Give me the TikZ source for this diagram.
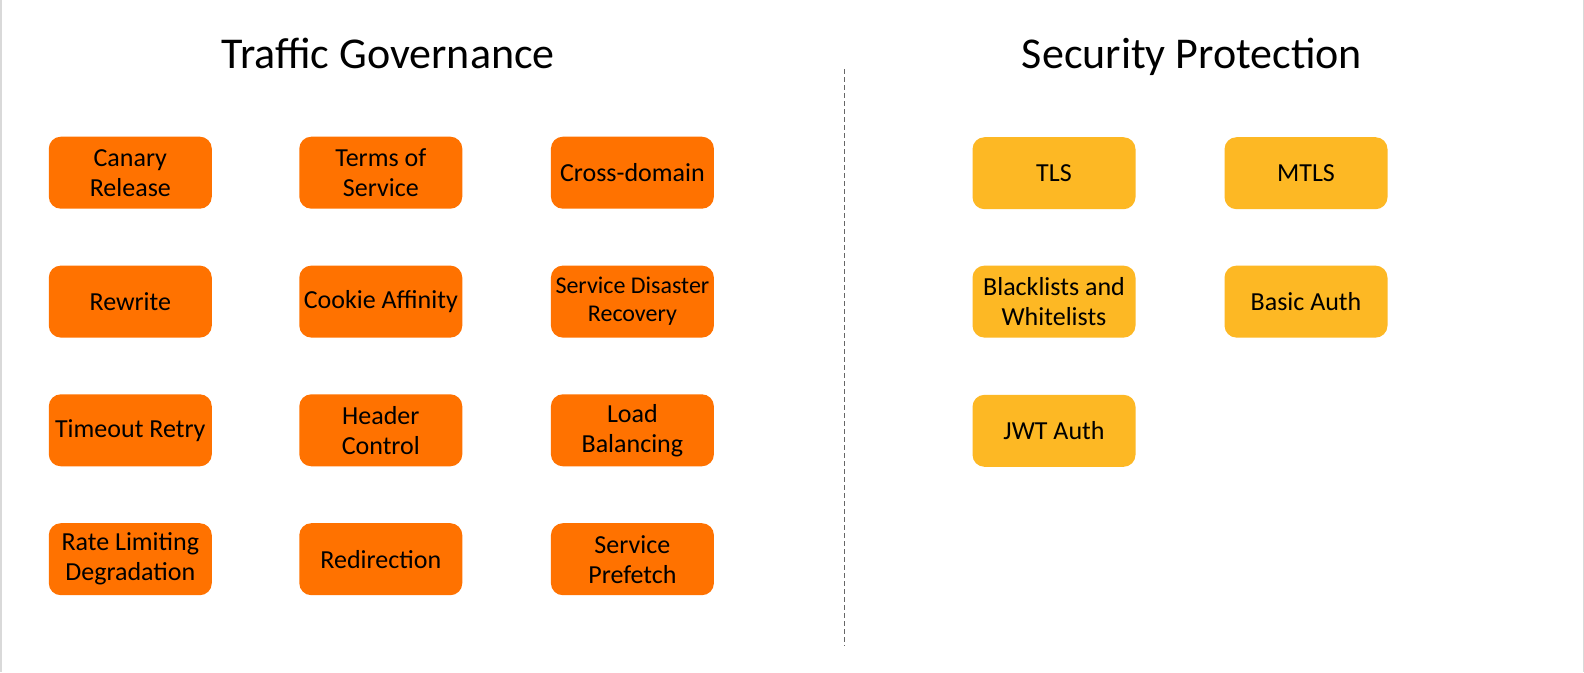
\documentclass[tikz,border=0pt]{standalone}
\usepackage{fontspec}
\setmainfont{Carlito}
\definecolor{tgorange}{HTML}{FF7200}
\definecolor{spyellow}{HTML}{FDB824}
\begin{document}
\begin{tikzpicture}[x=1pt,y=-1pt,
  tgbox/.style={fill=tgorange,rounded corners=12pt,minimum width=163pt,minimum height=72pt,
    align=center,font=\fontsize{26}{30}\selectfont,inner sep=1pt},
  spbox/.style={tgbox,fill=spyellow},
  title/.style={font=\fontsize{44}{50}\selectfont,anchor=base}]
\useasboundingbox (0,0) rectangle (1584,672);
\fill[white] (0,0) rectangle (1584,672);
\draw[black!15,line width=1.5pt] (0.75,0) -- (0.75,672) (1583.25,0) -- (1583.25,672);
\node[title] (t1) at (388,68) {Traffic Governance};
\node[title] (t2) at (1192,68) {Security Protection};
\coordinate (dtop) at (844.5,69);
\coordinate (dbot) at (844.5,646);
\draw[black!60,line width=1.2pt,dash pattern=on 5pt off 3pt] (dtop) -- (dbot);
% traffic governance
\node[tgbox] (a1) at (130.3,172.7) {Canary\\Release};
\node[tgbox] (a2) at (380.8,172.7) {Terms of\\Service};
\node[tgbox] (a3) at (632.4,172.7) {Cross-domain};
\node[tgbox] (b1) at (130.3,301.6) {Rewrite};
\node[tgbox] (b2) at (380.8,301.6) {Cookie Affinity};
\node[tgbox,font=\fontsize{24}{28}\selectfont] (b3) at (632.4,301.6) {Service Disaster\\Recovery};
\node[tgbox] (c1) at (130.3,430.3) {Timeout Retry};
\node[tgbox] (c2) at (380.8,430.3) {Header\\Control};
\node[tgbox] (c3) at (632.4,430.3) {Load\\Balancing};
\node[tgbox] (d1) at (130.3,559.2) {Rate Limiting\\Degradation};
\node[tgbox] (d2) at (380.8,559.2) {Redirection};
\node[tgbox] (d3) at (632.4,559.2) {Service\\Prefetch};
% security protection
\node[spbox] (s1) at (1054,173.2) {TLS};
\node[spbox] (s2) at (1306,173.2) {MTLS};
\node[spbox] (s3) at (1054,301.6) {Blacklists and\\Whitelists};
\node[spbox] (s4) at (1306,301.6) {Basic Auth};
\node[spbox] (s5) at (1054,430.8) {JWT Auth};
\end{tikzpicture}
\end{document}
